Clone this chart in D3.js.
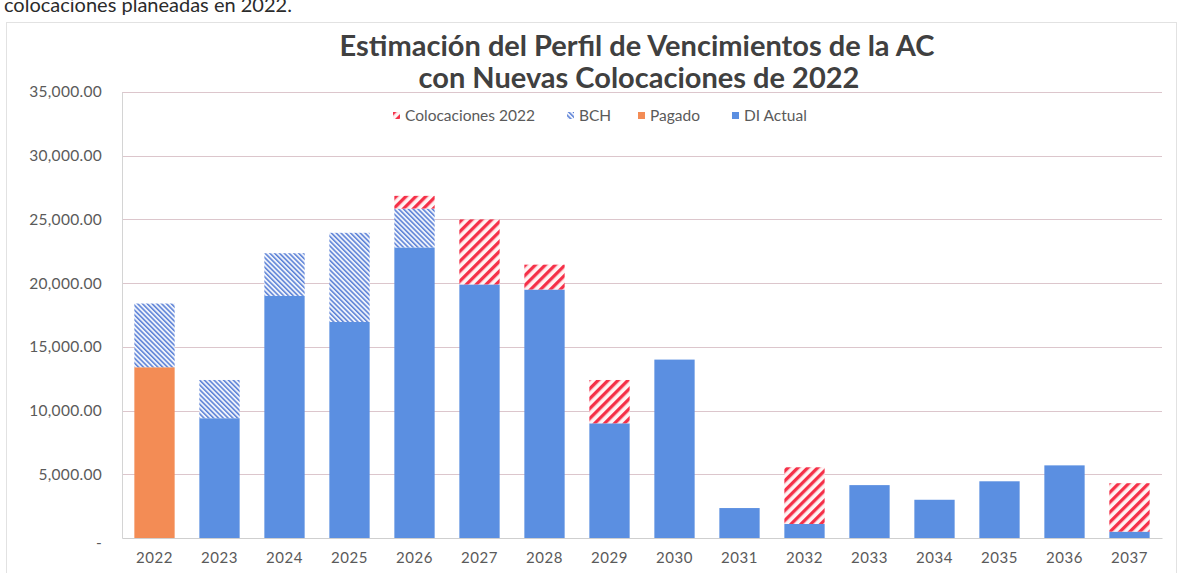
<!DOCTYPE html>
<html>
<head>
<meta charset="utf-8">
<script src="https://cdn.jsdelivr.net/npm/d3@7"></script>
<style>
  body { margin: 0; background: #fff; }
  svg { display: block; font-family: Lato, "Open Sans", sans-serif; }
</style>
</head>
<body>
<div class="chart"></div>
<script>
// data
var years = ["2022", "2023", "2024", "2025", "2026", "2027", "2028", "2029",
             "2030", "2031", "2032", "2033", "2034", "2035", "2036", "2037"];
var diActual = [0, 9400, 19000, 16950, 22800, 19900, 19500, 9000,
                14000, 2350, 1100, 4150, 3000, 4450, 5700, 500];
var pagado = [13400, 0, 0, 0, 0, 0, 0, 0, 0, 0, 0, 0, 0, 0, 0, 0];
var bch = [5000, 3000, 3350, 7000, 3050, 0, 0, 0, 0, 0, 0, 0, 0, 0, 0, 0];
var colocaciones = [0, 0, 0, 0, 1000, 5100, 1950, 3400, 0, 0, 4450, 0, 0, 0, 0, 3800];
var yTicks = [0, 5000, 10000, 15000, 20000, 25000, 30000, 35000];

var svgWidth = 1183;
var svgHeight = 573;

var margin = { top: 92, right: 21, bottom: 35, left: 122 };
var width = svgWidth - margin.left - margin.right;
var height = svgHeight - margin.top - margin.bottom;

var svg = d3.select(".chart")
  .append("svg")
  .attr("width", svgWidth)
  .attr("height", svgHeight);

// patterns for the hatched series
var defs = svg.append("defs");
var bchPat = defs.append("pattern")
  .attr("id", "bchPat")
  .attr("patternUnits", "userSpaceOnUse")
  .attr("width", 3.4).attr("height", 3.4)
  .attr("patternTransform", "rotate(-45)");
bchPat.append("rect").attr("width", 3.4).attr("height", 3.4).attr("fill", "#eef2fb");
bchPat.append("rect").attr("width", 1.5).attr("height", 3.4).attr("fill", "#5a80d6");

var colPat = defs.append("pattern")
  .attr("id", "colPat")
  .attr("patternUnits", "userSpaceOnUse")
  .attr("width", 7).attr("height", 7)
  .attr("patternTransform", "rotate(45)");
colPat.append("rect").attr("width", 7).attr("height", 7).attr("fill", "#fff4f4");
colPat.append("rect").attr("width", 3.3).attr("height", 7).attr("fill", "#f53048");

// page text above the chart (cut off at the top, as in the scan)
svg.append("text")
  .attr("x", 4).attr("y", 12)
  .attr("font-size", 20)
  .attr("fill", "#2b2b2b")
  .text("colocaciones planeadas en 2022.");

// chart frame
svg.append("rect")
  .attr("x", 6.5).attr("y", 22.5)
  .attr("width", 1170).attr("height", 580)
  .attr("fill", "none")
  .attr("stroke", "#e2e2e2");

// title
var title = svg.append("text")
  .attr("text-anchor", "middle")
  .attr("font-weight", "bold")
  .attr("font-size", 29)
  .attr("fill", "#404040");
title.append("tspan").attr("x", 637).attr("y", 56).text("Estimación del Perfil de Vencimientos de la AC");
title.append("tspan").attr("x", 639).attr("y", 88).text("con Nuevas Colocaciones de 2022");

var chartGroup = svg.append("g")
  .attr("transform", `translate(${margin.left}, ${margin.top})`);

var xScale = d3.scaleBand()
  .domain(years)
  .range([0, width])
  .paddingInner(0.38)
  .paddingOuter(0.19);

var yScale = d3.scaleLinear()
  .domain([0, 35000])
  .range([height, 0]);

// gridlines
chartGroup.append("g")
  .selectAll("line")
  .data(yTicks.slice(1))
  .enter()
  .append("line")
  .attr("x1", 0).attr("x2", width)
  .attr("y1", d => Math.round(yScale(d)) + 0.5)
  .attr("y2", d => Math.round(yScale(d)) + 0.5)
  .attr("stroke", "#dcc6cc")
  .attr("stroke-width", 1);

// y axis
var leftAxis = d3.axisLeft(yScale)
  .tickValues(yTicks)
  .tickSize(0)
  .tickPadding(20)
  .tickFormat(d => d === 0 ? "-" : d3.format(",.2f")(d));
var yAxisG = chartGroup.append("g").call(leftAxis);
yAxisG.select(".domain").attr("stroke", "#d4d4d4");
yAxisG.selectAll("text")
  .attr("font-size", 15.5)
  .attr("letter-spacing", "0.3px")
  .attr("font-family", "Lato, sans-serif")
  .attr("fill", "#5a5a5a");
yAxisG.selectAll(".tick")
  .filter(d => d === 0)
  .select("text")
  .attr("dy", "0.6em");

// stacked bars: DI Actual / Pagado at the bottom, BCH, then Colocaciones
var rows = years.map((y, i) => ({
  year: y,
  diActual: diActual[i],
  pagado: pagado[i],
  bch: bch[i],
  colocaciones: colocaciones[i]
}));
var keys = ["pagado", "diActual", "bch", "colocaciones"];
var fills = {
  pagado: "#f38c55",
  diActual: "#5b8fe1",
  bch: "url(#bchPat)",
  colocaciones: "url(#colPat)"
};
var stacked = d3.stack().keys(keys)(rows);

chartGroup.append("g")
  .selectAll("g")
  .data(stacked)
  .enter()
  .append("g")
  .attr("fill", d => fills[d.key])
  .selectAll("rect")
  .data(d => d)
  .enter()
  .append("rect")
  .attr("x", d => xScale(d.data.year))
  .attr("width", xScale.bandwidth())
  .attr("y", d => yScale(d[1]))
  .attr("height", d => yScale(d[0]) - yScale(d[1]));

// x axis
var bottomAxis = d3.axisBottom(xScale).tickSize(0).tickPadding(14);
var xAxisG = chartGroup.append("g")
  .attr("transform", `translate(0, ${height})`)
  .call(bottomAxis);
xAxisG.select(".domain").attr("stroke", "#cfcfcf");
xAxisG.selectAll("text")
  .attr("font-size", 15)
  .attr("letter-spacing", "0.5px")
  .attr("font-family", "Lato, sans-serif")
  .attr("fill", "#5a5a5a");

// legend
var legendItems = [
  { label: "Colocaciones 2022", fill: "url(#colPat)", x: 393 },
  { label: "BCH", fill: "url(#bchPat)", x: 567 },
  { label: "Pagado", fill: "#f38c55", x: 638 },
  { label: "DI Actual", fill: "#5b8fe1", x: 732 }
];
var legend = svg.append("g").selectAll("g")
  .data(legendItems)
  .enter()
  .append("g")
  .attr("transform", d => `translate(${d.x}, 121)`);
legend.append("rect")
  .attr("x", 0).attr("y", -9)
  .attr("width", 7).attr("height", 7)
  .attr("fill", d => d.fill);
legend.append("text")
  .attr("x", 12).attr("y", 0)
  .attr("font-size", 15.5)
  .attr("fill", "#5a5a5a")
  .text(d => d.label);
</script>
</body>
</html>
